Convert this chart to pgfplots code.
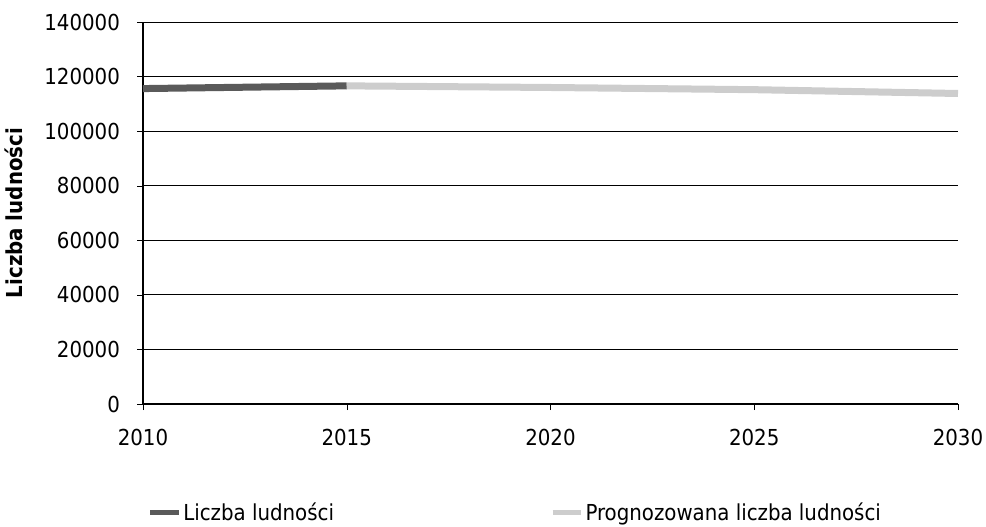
\documentclass[border=0pt]{standalone}
\usepackage{pgfplots}
\pgfplotsset{compat=1.18}
\usepackage{fontspec}
\setmainfont{DejaVu Sans Condensed}
\definecolor{actual}{RGB}{90,90,90}
\definecolor{forecast}{RGB}{205,205,205}
\begin{document}
\begin{tikzpicture}
\path[use as bounding box] (-71.5pt,-61pt) rectangle (421.5pt,202pt);
\begin{axis}[
  scale only axis,
  width=407.5pt, height=191pt,
  at={(0,0)}, anchor=south west,
  xmin=2010, xmax=2030,
  ymin=0, ymax=140000,
  xtick={2010,2015,2020,2025,2030},
  xticklabels={2010,2015,2020,2025,2030},
  ytick={0,20000,40000,60000,80000,100000,120000,140000},
  yticklabels={0,20000,40000,60000,80000,100000,120000,140000},
  scaled y ticks=false,
  x tick label style={yshift=-6pt},
  y tick label style={xshift=-5pt},
  ymajorgrids,
  grid style={black, line width=0.5pt},
  axis x line*=bottom,
  axis y line*=left,
  axis line style={black, line width=0.6pt},
  tick style={black},
  tick align=outside,
  major tick length=3pt,
  ticklabel style={font=\fontsize{11}{13}\selectfont},
  ylabel={\bfseries Liczba ludności},
  ylabel style={font=\fontsize{11}{13}\selectfont, yshift=4pt},
  legend columns=2,
  legend style={at={(0.457,-0.285)}, anchor=center, draw=none, fill=none,
    font=\fontsize{11}{13}\selectfont,
    nodes={inner xsep=1pt},
    /tikz/every even column/.append style={column sep=107pt}},
  legend cell align=left,
  legend image code/.code={\draw[#1, line width=2.5pt] (0cm,0cm) -- (0.5cm,0cm);},
]
\addplot[actual, line width=3.5pt] coordinates {
  (2010,115600) (2011,115800) (2012,116000) (2013,116200) (2014,116400) (2015,116600)
};
\addlegendentry{Liczba ludności}
\addplot[forecast, line width=3.5pt] coordinates {
  (2015,116600) (2020,116000) (2025,115200) (2030,113800)
};
\addlegendentry{Prognozowana liczba ludności}
\end{axis}
\end{tikzpicture}
\end{document}
